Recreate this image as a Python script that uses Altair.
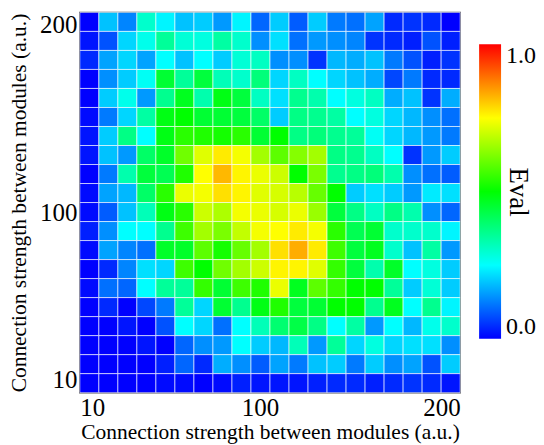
import altair as alt
import pandas as pd

x_min, x_max, n_bins = 10, 200, 20
tick_values = [10, 100, 200]
legend_values = [0.0, 1.0]

# Eval values, rows listed from top (y = 200) to bottom (y = 10), columns from x = 10 to x = 200
row01 = [0.00, 0.19, 0.13, 0.30, 0.24, 0.19, 0.20, 0.15, 0.24, 0.10, 0.20, 0.09, 0.20, 0.12, 0.11, 0.16, 0.04, 0.05, 0.04, 0.00]
row02 = [0.02, 0.08, 0.21, 0.27, 0.35, 0.29, 0.28, 0.34, 0.30, 0.14, 0.22, 0.11, 0.15, 0.14, 0.13, 0.05, 0.04, 0.03, 0.08, 0.03]
row03 = [0.04, 0.16, 0.21, 0.16, 0.25, 0.19, 0.25, 0.20, 0.29, 0.31, 0.14, 0.14, 0.05, 0.18, 0.17, 0.19, 0.12, 0.08, 0.03, 0.05]
row04 = [0.00, 0.14, 0.20, 0.26, 0.45, 0.35, 0.44, 0.32, 0.30, 0.38, 0.21, 0.31, 0.25, 0.21, 0.19, 0.17, 0.07, 0.12, 0.04, 0.04]
row05 = [0.00, 0.20, 0.27, 0.15, 0.36, 0.47, 0.33, 0.48, 0.44, 0.31, 0.22, 0.36, 0.33, 0.25, 0.28, 0.31, 0.17, 0.19, 0.05, 0.17]
row06 = [0.01, 0.12, 0.21, 0.34, 0.48, 0.50, 0.45, 0.45, 0.44, 0.40, 0.20, 0.37, 0.36, 0.34, 0.25, 0.28, 0.21, 0.18, 0.14, 0.11]
row07 = [0.02, 0.20, 0.37, 0.25, 0.48, 0.54, 0.53, 0.52, 0.54, 0.45, 0.50, 0.37, 0.38, 0.36, 0.35, 0.26, 0.21, 0.18, 0.15, 0.12]
row08 = [0.02, 0.19, 0.15, 0.40, 0.46, 0.61, 0.72, 0.77, 0.74, 0.66, 0.59, 0.63, 0.66, 0.37, 0.36, 0.31, 0.25, 0.05, 0.15, 0.20]
row09 = [0.00, 0.12, 0.33, 0.44, 0.42, 0.53, 0.75, 0.82, 0.76, 0.73, 0.70, 0.50, 0.62, 0.36, 0.37, 0.38, 0.33, 0.14, 0.11, 0.09]
row10 = [0.01, 0.16, 0.18, 0.40, 0.54, 0.73, 0.74, 0.78, 0.76, 0.72, 0.71, 0.68, 0.60, 0.50, 0.20, 0.22, 0.20, 0.15, 0.23, 0.22]
row11 = [0.01, 0.09, 0.19, 0.32, 0.48, 0.54, 0.70, 0.67, 0.74, 0.73, 0.71, 0.73, 0.65, 0.44, 0.37, 0.31, 0.37, 0.33, 0.14, 0.10]
row12 = [0.03, 0.14, 0.25, 0.25, 0.36, 0.56, 0.66, 0.62, 0.69, 0.74, 0.75, 0.77, 0.74, 0.54, 0.42, 0.45, 0.30, 0.30, 0.30, 0.24]
row13 = [0.01, 0.16, 0.13, 0.11, 0.46, 0.46, 0.59, 0.52, 0.60, 0.66, 0.78, 0.83, 0.77, 0.56, 0.44, 0.47, 0.30, 0.19, 0.34, 0.15]
row14 = [0.00, 0.04, 0.13, 0.22, 0.21, 0.56, 0.50, 0.61, 0.66, 0.70, 0.76, 0.76, 0.72, 0.55, 0.44, 0.33, 0.46, 0.25, 0.28, 0.20]
row15 = [0.01, 0.11, 0.10, 0.25, 0.35, 0.35, 0.55, 0.45, 0.56, 0.53, 0.73, 0.47, 0.59, 0.55, 0.50, 0.50, 0.35, 0.20, 0.29, 0.20]
row16 = [0.00, 0.04, 0.00, 0.07, 0.12, 0.35, 0.21, 0.45, 0.36, 0.48, 0.53, 0.44, 0.45, 0.50, 0.50, 0.36, 0.47, 0.25, 0.36, 0.24]
row17 = [0.00, 0.00, 0.02, 0.00, 0.08, 0.25, 0.21, 0.11, 0.25, 0.32, 0.39, 0.43, 0.37, 0.25, 0.34, 0.15, 0.25, 0.18, 0.27, 0.30]
row18 = [0.00, 0.00, 0.00, 0.02, 0.00, 0.10, 0.14, 0.15, 0.25, 0.20, 0.18, 0.32, 0.15, 0.35, 0.21, 0.28, 0.21, 0.22, 0.22, 0.14]
row19 = [0.00, 0.00, 0.00, 0.00, 0.03, 0.10, 0.04, 0.17, 0.14, 0.09, 0.16, 0.12, 0.19, 0.20, 0.12, 0.20, 0.14, 0.16, 0.08, 0.20]
row20 = [0.00, 0.00, 0.00, 0.00, 0.01, 0.01, 0.00, 0.01, 0.03, 0.02, 0.02, 0.02, 0.03, 0.04, 0.04, 0.03, 0.04, 0.05, 0.04, 0.02]

rows_top_to_bottom = [row01, row02, row03, row04, row05, row06, row07, row08, row09, row10,
                      row11, row12, row13, row14, row15, row16, row17, row18, row19, row20]

step = (x_max - x_min) / n_bins
records = []
for r, row in enumerate(rows_top_to_bottom):
    y_hi = x_max - r * step
    y_lo = y_hi - step
    for c, v in enumerate(row):
        x_lo = x_min + c * step
        records.append(dict(x=x_lo, x2=x_lo + step, y=y_lo, y2=y_hi, Eval=v))
df = pd.DataFrame(records)

font = "Liberation Serif"
title_text = "Connection strength between modules (a.u.)"

axis_common = dict(
    values=tick_values, labelFlush=True, ticks=False, grid=False, domain=False,
    labelFont=font, titleFont=font, labelFontSize=25, titleFontSize=21.5,
    labelColor="black", titleColor="black", titleFontWeight="normal",
)

chart = alt.Chart(df).mark_rect(stroke="white", strokeWidth=1, strokeOpacity=0.6).encode(
    x=alt.X("x:Q", scale=alt.Scale(domain=[x_min, x_max], nice=False, zero=False),
            axis=alt.Axis(title=title_text, labelPadding=3, titlePadding=1, **axis_common)),
    x2="x2:Q",
    y=alt.Y("y:Q", scale=alt.Scale(domain=[x_min, x_max], nice=False, zero=False),
            axis=alt.Axis(title=title_text, labelPadding=3, titlePadding=9, **axis_common)),
    y2="y2:Q",
    color=alt.Color(
        "Eval:Q",
        scale=alt.Scale(domain=[0, 0.25, 0.5, 0.75, 1.0],
                        range=["#0000ff", "#00ffff", "#00ff00", "#ffff00", "#ff0000"],
                        interpolate="rgb"),
        legend=alt.Legend(
            orient="none", legendX=400, legendY=32, direction="vertical",
            gradientLength=295, gradientThickness=22, gradientStrokeWidth=0,
            values=legend_values, format=".1f",
            labelFont=font, labelFontSize=24, labelColor="black", labelOffset=5,
            title="Eval", titleOrient="right", titleAnchor="middle",
            titleFont=font, titleFontSize=27, titleFontWeight="normal", titleColor="black",
            titlePadding=-32,
        ),
    ),
).properties(
    width=381, height=381,
    padding={"left": 0, "top": 3, "right": 0, "bottom": 0},
).configure_view(stroke="#444444", strokeWidth=1.5)

chart.save("out.html", embed_options={"renderer": "svg", "actions": False})
